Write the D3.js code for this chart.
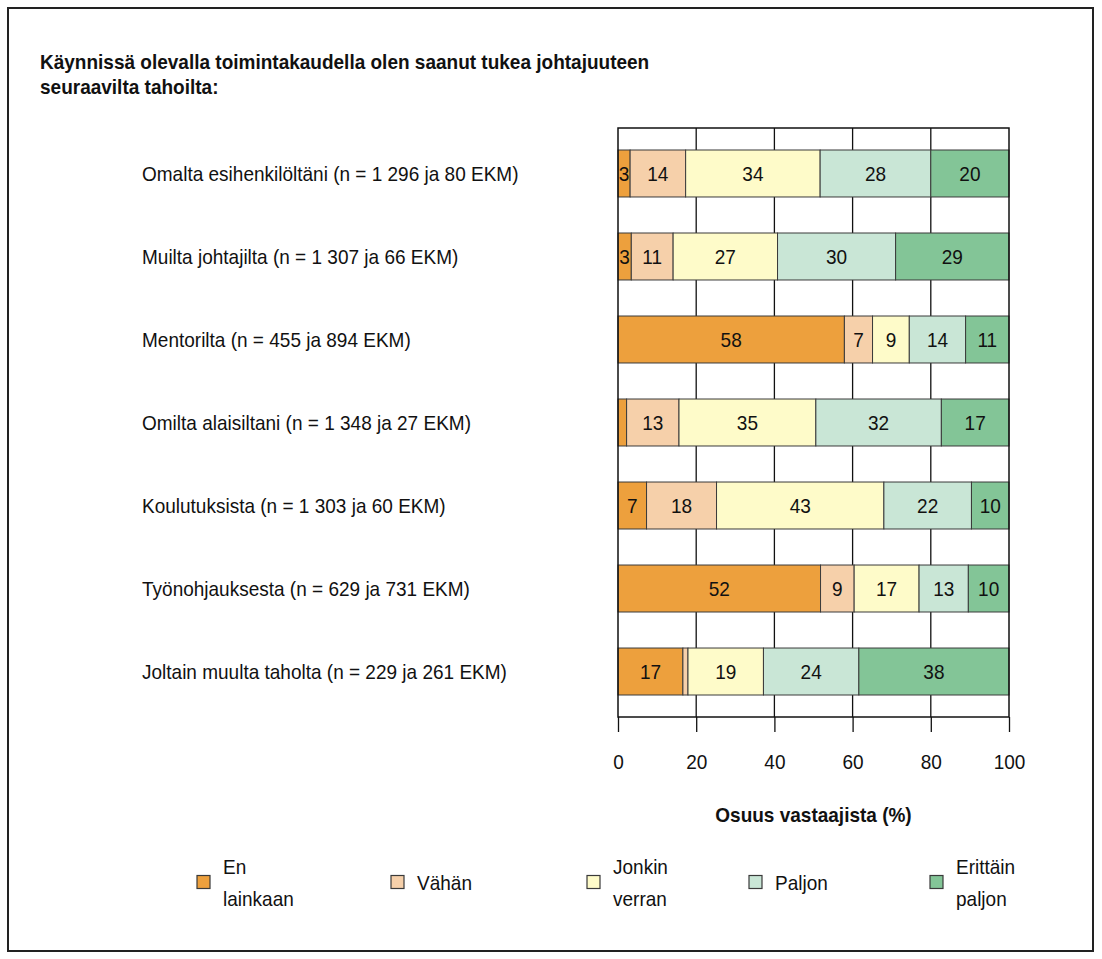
<!DOCTYPE html>
<html lang="fi">
<head>
<meta charset="utf-8">
<script src="https://cdn.jsdelivr.net/npm/d3@7"></script>
<style>
  html, body { margin: 0; padding: 0; background: #fff; }
  svg { display: block; font-family: "Liberation Sans", Arial, sans-serif; }
</style>
</head>
<body>
<svg id="chart" width="1102" height="959"></svg>
<script>
// Support sources (rows) and the share of respondents per answer level (%)
const categories = [
  "Omalta esihenkilöltäni (n = 1 296 ja 80 EKM)",
  "Muilta johtajilta (n = 1 307 ja 66 EKM)",
  "Mentorilta (n = 455 ja 894 EKM)",
  "Omilta alaisiltani (n = 1 348 ja 27 EKM)",
  "Koulutuksista (n = 1 303 ja 60 EKM)",
  "Työnohjauksesta (n = 629 ja 731 EKM)",
  "Joltain muulta taholta (n = 229 ja 261 EKM)"
];
const levels = ["En lainkaan", "Vähän", "Jonkin verran", "Paljon", "Erittäin paljon"];
const legendLines = [["En", "lainkaan"], ["Vähän"], ["Jonkin", "verran"], ["Paljon"], ["Erittäin", "paljon"]];
const enLainkaan     = [3.1, 3.4, 57.9, 2.2, 7.3, 51.8, 16.6];
const vahan          = [14.2, 10.7, 7.2, 13.4, 17.9, 8.6, 1.3];
const jonkinVerran   = [34.4, 26.7, 9.4, 35.0, 42.8, 16.6, 19.3];
const paljon         = [28.3, 30.2, 14.4, 32.1, 22.4, 12.6, 24.4];
const erittainPaljon = [20.0, 29.0, 11.1, 17.3, 9.6, 10.4, 38.4];
const xTicks = [0, 20, 40, 60, 80, 100];
const colors = ["#eda03d", "#f6d0aa", "#fefbc9", "#c9e6d6", "#83c597"];

const title = ["Käynnissä olevalla toimintakaudella olen saanut tukea johtajuuteen",
               "seuraavilta tahoilta:"];
const axisTitle = "Osuus vastaajista (%)";

const seriesValues = [enLainkaan, vahan, jonkinVerran, paljon, erittainPaljon];
const table = categories.map((c, i) => {
  const row = { category: c };
  levels.forEach((lv, j) => { row[lv] = seriesValues[j][i]; });
  return row;
});

// Narrow-looking type: measure the width at the base size, then draw the
// glyphs taller and squeeze them back to that width.
const BASE = 19, TALL = 21;
function condense(sel) {
  sel.each(function () {
    this.setAttribute("font-size", BASE);
    const w = this.getComputedTextLength();
    this.setAttribute("font-size", TALL);
    this.setAttribute("textLength", w);
    this.setAttribute("lengthAdjust", "spacingAndGlyphs");
  });
}

const svg = d3.select("#chart");
const plot = { left: 618, right: 1009, top: 128, bottom: 717 };

const x = d3.scaleLinear().domain([0, 100]).range([plot.left, plot.right]);
const y = d3.scaleBand().domain(categories)
  .range([plot.top, plot.bottom]).paddingInner(0.434).paddingOuter(0.265);
const color = d3.scaleOrdinal().domain(levels).range(colors);

// outer frame
svg.append("rect").attr("x", 8).attr("y", 8).attr("width", 1085).attr("height", 943)
  .attr("fill", "none").attr("stroke", "#222").attr("stroke-width", 2);

// title
const tt = svg.append("text").attr("font-weight", "bold").attr("fill", "#111");
tt.selectAll("tspan").data(title).join("tspan")
  .attr("x", 40).attr("y", (d, i) => 69 + i * 25).text(d => d);
condense(tt.selectAll("tspan"));

// vertical grid lines
svg.append("g").selectAll("line").data(xTicks.slice(1, -1)).join("line")
  .attr("x1", d => x(d)).attr("x2", d => x(d))
  .attr("y1", plot.top).attr("y2", plot.bottom)
  .attr("stroke", "#111").attr("stroke-width", 1.3);

// stacked bars
const stacked = d3.stack().keys(levels)(table);
const layer = svg.append("g").selectAll("g").data(stacked).join("g")
  .attr("fill", d => color(d.key));
layer.selectAll("rect").data(d => d).join("rect")
  .attr("x", d => x(d[0])).attr("width", d => x(d[1]) - x(d[0]))
  .attr("y", d => y(d.data.category)).attr("height", y.bandwidth())
  .attr("stroke", "#3a3a3a").attr("stroke-width", 1);

// value labels
const labels = svg.append("g").attr("fill", "#111").attr("text-anchor", "middle");
stacked.forEach(s => {
  labels.selectAll(null).data(s.filter(d => (d[1] - d[0]) >= 2.5)).join("text")
    .attr("x", d => (x(d[0]) + x(d[1])) / 2)
    .attr("y", d => y(d.data.category) + y.bandwidth() / 2)
    .attr("dy", "0.36em")
    .text(d => Math.round(d[1] - d[0]));
});
condense(labels.selectAll("text"));

// plot frame
svg.append("rect").attr("x", plot.left).attr("y", plot.top)
  .attr("width", plot.right - plot.left).attr("height", plot.bottom - plot.top)
  .attr("fill", "none").attr("stroke", "#111").attr("stroke-width", 1.5);

// x axis
const xAxis = d3.axisBottom(x).tickValues(xTicks).tickSize(15).tickPadding(22);
const gx = svg.append("g").attr("transform", `translate(0,${plot.bottom})`).call(xAxis);
gx.select(".domain").remove();
gx.selectAll(".tick line").attr("stroke", "#111").attr("stroke-width", 1.3);
gx.selectAll(".tick text").attr("fill", "#111")
  .attr("font-family", "Liberation Sans, Arial, sans-serif");
condense(gx.selectAll(".tick text"));

const at = svg.append("text").attr("x", (plot.left + plot.right) / 2).attr("y", 822)
  .attr("text-anchor", "middle").attr("font-weight", "bold")
  .attr("fill", "#111").text(axisTitle);
condense(at);

// category labels
const cl = svg.append("g").selectAll("text").data(categories).join("text")
  .attr("x", 142).attr("y", d => y(d) + y.bandwidth() / 2).attr("dy", "0.36em")
  .attr("fill", "#111").text(d => d);
condense(cl);

// legend
const legendX = [197, 391, 587, 749, 930];
const legendCy = 882;
const lg = svg.append("g").selectAll("g").data(levels).join("g")
  .attr("transform", (d, i) => `translate(${legendX[i]},${legendCy})`);
lg.append("rect").attr("x", 0).attr("y", -6.5).attr("width", 13).attr("height", 13)
  .attr("fill", d => color(d)).attr("stroke", "#3a3a3a").attr("stroke-width", 1.2);
lg.append("text").attr("fill", "#111")
  .each(function (d, i) {
    const lines = legendLines[i];
    const t = d3.select(this);
    lines.forEach((ln, k) => {
      t.append("tspan").attr("x", 26)
        .attr("y", (k - (lines.length - 1) / 2) * 32)
        .attr("dy", "0.36em").text(ln);
    });
  });
condense(lg.selectAll("tspan"));
</script>
</body>
</html>
